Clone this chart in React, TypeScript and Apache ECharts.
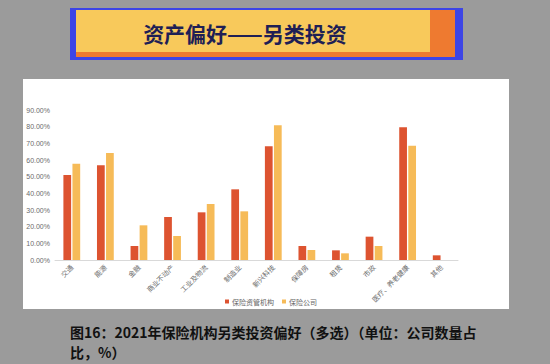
import React, { useEffect, useRef } from "react";
import * as echarts from "echarts";

const categories = ["交通", "能源", "金融", "商业不动产", "工业及物流", "制造业", "新兴科技", "保障房", "租赁", "市政", "医疗、养老健康", "其他"];
const seriesNames = ["保险资管机构", "保险公司"];
const assetMgrValues = [51.0, 56.8, 8.4, 25.8, 28.6, 42.4, 68.2, 8.4, 5.8, 14.0, 79.6, 2.8];
const insurerValues = [57.8, 64.2, 20.8, 14.4, 33.6, 29.2, 80.8, 6.0, 4.0, 8.4, 68.6, 0];
const bannerTitle = "资产偏好——另类投资";
const captionLines = ["图16：2021年保险机构另类投资偏好（多选）（单位：公司数量占", "比，%）"];

export default function App() {
  const ref = useRef<HTMLDivElement>(null);
  useEffect(() => {
    if (!ref.current) return;
    const chart = echarts.init(ref.current, null, { renderer: "svg" });
    chart.setOption({
      animation: false,
      backgroundColor: "#9b9b9b",
      graphic: [
        { type: "rect", z: -10, shape: { x: 23, y: 79, width: 486, height: 230 }, style: { fill: "#ffffff" } },
        { type: "rect", shape: { x: 70, y: 8, width: 393, height: 52 }, style: { fill: "#3d45e6" } },
        { type: "rect", shape: { x: 76, y: 10, width: 379, height: 47 }, style: { fill: "#ee7a30" } },
        { type: "rect", shape: { x: 76, y: 10, width: 354, height: 42 }, style: { fill: "#f8c95b" } },
        {
          type: "text", x: 245, y: 33,
          style: { text: bannerTitle, fill: "#1f1f55", font: "bold 21px 'Noto Sans CJK SC'", align: "center", verticalAlign: "middle" },
        },
        {
          type: "text", x: 70, y: 332,
          style: { text: captionLines[0], fill: "#111111", font: "bold 14px 'Noto Sans CJK SC'", align: "left", verticalAlign: "middle" },
        },
        {
          type: "text", x: 70, y: 351.5,
          style: { text: captionLines[1], fill: "#111111", font: "bold 14px 'Noto Sans CJK SC'", align: "left", verticalAlign: "middle" },
        },
      ],
      legend: {
        data: seriesNames,
        left: 220,
        top: 293,
        itemWidth: 4,
        itemHeight: 4,
        itemGap: 8,
        icon: "rect",
        textStyle: { fontSize: 7, color: "#666", fontFamily: "'Noto Sans CJK SC'", padding: [0, 0, 0, -2] },
      },
      grid: { left: 55, right: 92, top: 110, bottom: 104, containLabel: false },
      xAxis: {
        type: "category",
        data: categories,
        axisLine: { lineStyle: { color: "#d9d9d9" } },
        axisTick: { show: false },
        axisLabel: { interval: 0, rotate: 45, fontSize: 7, color: "#6b6b6b", margin: 6, fontFamily: "'Noto Sans CJK SC'" },
      },
      yAxis: {
        type: "value",
        min: 0,
        max: 90,
        interval: 10,
        axisLine: { show: false },
        axisTick: { show: false },
        splitLine: { show: false },
        axisLabel: { fontSize: 7, color: "#6b6b6b", margin: 5, formatter: (v: number) => v.toFixed(2) + "%", fontFamily: "Arial, 'Liberation Sans'" },
      },
      series: [
        { name: seriesNames[0], type: "bar", data: assetMgrValues, itemStyle: { color: "#dd5330" }, barGap: "17%", barCategoryGap: "50%" },
        { name: seriesNames[1], type: "bar", data: insurerValues, itemStyle: { color: "#f6bb58" }, barGap: "17%", barCategoryGap: "50%" },
      ],
    });
    return () => chart.dispose();
  }, []);
  return <div ref={ref} style={{ position: "absolute", left: 0, top: 0, width: 550, height: 364 }} />;
}
